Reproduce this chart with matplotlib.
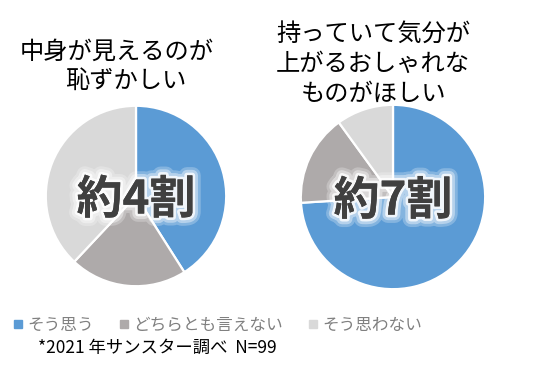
import matplotlib
matplotlib.use("Agg")
import matplotlib.pyplot as plt
from matplotlib.lines import Line2D
import matplotlib.patheffects as pe

plt.rcParams['font.family'] = ['Noto Sans CJK JP', 'DejaVu Sans']

categories = ["そう思う", "どちらとも言えない", "そう思わない"]
colors = ["#5B9BD5", "#AEAAAA", "#D9D9D9"]

left_title = ["中身が見えるのが", "恥ずかしい"]
left_values = [41, 21, 38]
left_label = "約4割"

right_title = "持っていて気分が\n上がるおしゃれな\nものがほしい"
right_values = [74, 16, 10]
right_label = "約7割"

footnote = "*2021 年サンスター調べ  N=99"

W, H = 544, 369
fig = plt.figure(figsize=(W / 100, H / 100), dpi=100)
fig.patch.set_facecolor("white")


def add_pie(cx, cy, r, values, label):
    ax = fig.add_axes([(cx - r) / W, 1 - (cy + r) / H, 2 * r / W, 2 * r / H])
    ax.pie(values, colors=colors, startangle=90, counterclock=False,
           radius=1.0, wedgeprops=dict(edgecolor="white", linewidth=1.6))
    ax.set_xlim(-1.02, 1.02)
    ax.set_ylim(-1.02, 1.02)
    ax.set_aspect("equal")
    ax.axis("off")
    glow = [pe.withStroke(linewidth=12, foreground="white", alpha=0.25),
            pe.withStroke(linewidth=8, foreground="white", alpha=0.4),
            pe.withStroke(linewidth=4, foreground="white", alpha=0.8),
            pe.Normal()]
    ax.text(0, -0.05, label, ha="center", va="center", fontsize=33,
            fontweight="bold", color="#404040", path_effects=glow)
    return ax


add_pie(136, 196, 92, left_values, left_label)
add_pie(393, 197, 94, right_values, right_label)

fig.text(117 / W, 1 - 52 / H, left_title[0], ha="center", va="center",
         fontsize=17.5, color="black")
fig.text(126 / W, 1 - 81 / H, left_title[1], ha="center", va="center",
         fontsize=17.5, color="black")
fig.text(373 / W, 1 - 64 / H, right_title, ha="center", va="center",
         fontsize=17.5, color="black", linespacing=1.2)

handles = [Line2D([0], [0], marker="s", linestyle="none", markersize=6,
                  markerfacecolor=c, markeredgecolor=c) for c in colors]
fig.legend(handles, categories, loc="center left",
           bbox_to_anchor=(0.0, 1 - 325 / H), ncol=3, frameon=False,
           fontsize=12, labelcolor="#808080", handletextpad=0.05,
           columnspacing=1.3, handlelength=1.0, borderaxespad=0.2)

fig.text(38 / W, 1 - 348 / H, footnote, ha="left", va="center",
         fontsize=12.5, color="black")

fig.savefig("out.png", dpi=100)
